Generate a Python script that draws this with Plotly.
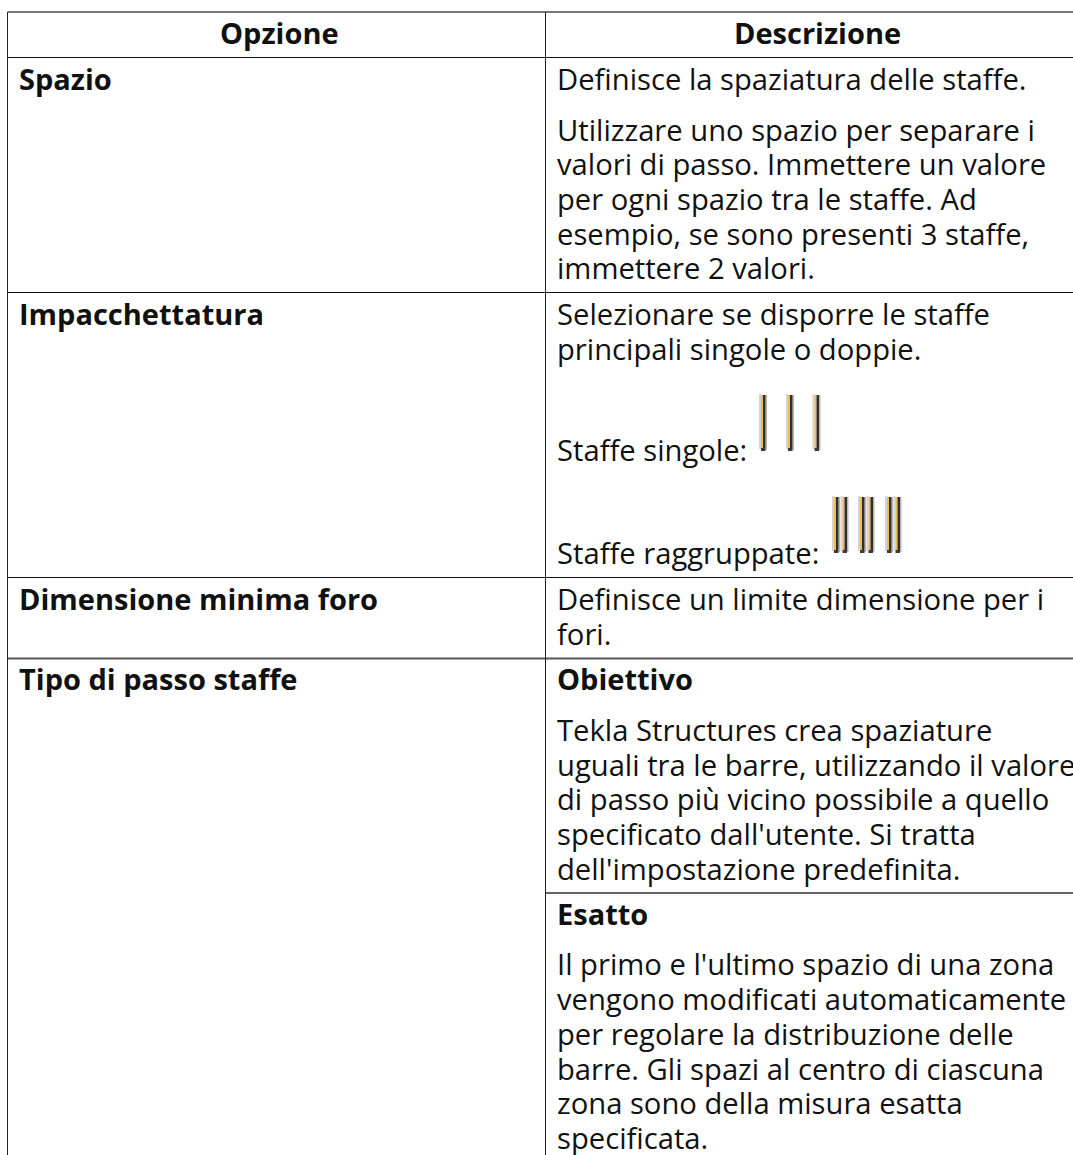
import plotly.graph_objects as go

FONT = "Open Sans"
SIZE = 29
SIZE_REGULAR = 29.2

header = ["Opzione", "Descrizione"]
left_cells = ["Spazio", "Impacchettatura", "Dimensione minima foro", "Tipo di passo staffe"]
left_base = [88, 323, 608, 688]

right_lines = [
    ("Definisce la spaziatura delle staffe.", 88, False),
    ("Utilizzare uno spazio per separare i", 139, False),
    ("valori di passo. Immettere un valore", 173, False),
    ("per ogni spazio tra le staffe. Ad", 208, False),
    ("esempio, se sono presenti 3 staffe,", 243, False),
    ("immettere 2 valori.", 277, False),
    ("Selezionare se disporre le staffe", 323, False),
    ("principali singole o doppie.", 358, False),
    ("Staffe singole:", 459, False),
    ("Staffe raggruppate:", 562, False),
    ("Definisce un limite dimensione per i", 608, False),
    ("fori.", 643, False),
    ("Obiettivo", 688, True),
    ("Tekla Structures crea spaziature", 739, False),
    ("uguali tra le barre, utilizzando il valore", 774, False),
    ("di passo più vicino possibile a quello", 808, False),
    ("specificato dall'utente. Si tratta", 843, False),
    ("dell'impostazione predefinita.", 878, False),
    ("Esatto", 923, True),
    ("Il primo e l'ultimo spazio di una zona", 973, False),
    ("vengono modificati automaticamente", 1008, False),
    ("per regolare la distribuzione delle", 1043, False),
    ("barre. Gli spazi al centro di ciascuna", 1078, False),
    ("zona sono della misura esatta", 1112, False),
    ("specificata.", 1147, False),
]

X0, XM, X1 = 7.5, 545.5, 1073
ROW_LINES = [57.5, 292.5, 577.5]
SOFT_LINES = [658.5]
SUB_LINE = 893
TOP = 12
BOTTOM = 1155
BASE_OFFSET = 9.5

fig = go.Figure()
fig.add_trace(go.Scatter(x=[0, 1073], y=[0, 1155], mode="markers", marker_opacity=0, hoverinfo="skip", showlegend=False))

def hline(y, x0=X0, x1=X1, color="#111", w=1):
    fig.add_shape(type="line", x0=x0, x1=x1, y0=y, y1=y, line=dict(color=color, width=w))

def vline(x, y0=TOP, y1=BOTTOM, color="#222", w=1):
    fig.add_shape(type="line", x0=x, x1=x, y0=y0, y1=y1, line=dict(color=color, width=w))

hline(TOP, color="#777", w=2)
for y in ROW_LINES:
    hline(y)
for y in SOFT_LINES:
    hline(y, color="#555", w=2)
hline(SUB_LINE, x0=XM, color="#666", w=2)
vline(X0)
vline(XM)

def text(x, base, s, bold=False, anchor="left"):
    fig.add_annotation(x=x, y=base - BASE_OFFSET, text=f"<b>{s}</b>" if bold else s, showarrow=False,
                       xanchor=anchor, yanchor="middle", align=anchor,
                       font=dict(family=FONT, size=SIZE if bold else SIZE_REGULAR, color="#111"))

text(279, 42, header[0], True, "center")
text(817, 42, header[1], True, "center")
for s, b in zip(left_cells, left_base):
    text(17, b, s, True)
for s, b, bd in right_lines:
    text(555, b, s, bd)

def rect(x0, x1, y0, y1, color):
    fig.add_shape(type="rect", x0=x0, x1=x1, y0=y0, y1=y1, fillcolor=color, line=dict(width=0))

def bar(x, y0, y1):
    rect(x, x + 2, y0, y1 - 2, "#d4d4d4")
    rect(x + 6.5, x + 8, y0 + 1, y1 - 1, "#b5b5b5")
    rect(x + 2, x + 4, y0 + 1, y1 - 3, "#efb950")
    rect(x + 4, x + 6.5, y0 + 1, y1 - 3, "#2e2e2e")
    rect(x + 2, x + 6.5, y1 - 3, y1, "#3a3a3a")

for x in (759, 786, 812.5):
    bar(x, 394, 451)
for x in (832, 858, 885):
    bar(x, 496, 553)
    bar(x + 8.5, 496, 553)

fig.update_xaxes(range=[0, 1073], visible=False, fixedrange=True)
fig.update_yaxes(range=[1155, 0], visible=False, fixedrange=True)
fig.update_layout(width=1073, height=1155, margin=dict(l=0, r=0, t=0, b=0),
                  paper_bgcolor="white", plot_bgcolor="white", showlegend=False)
fig.write_html("out.html", config={"displayModeBar": False},
               post_script="document.body.style.margin='0';")
